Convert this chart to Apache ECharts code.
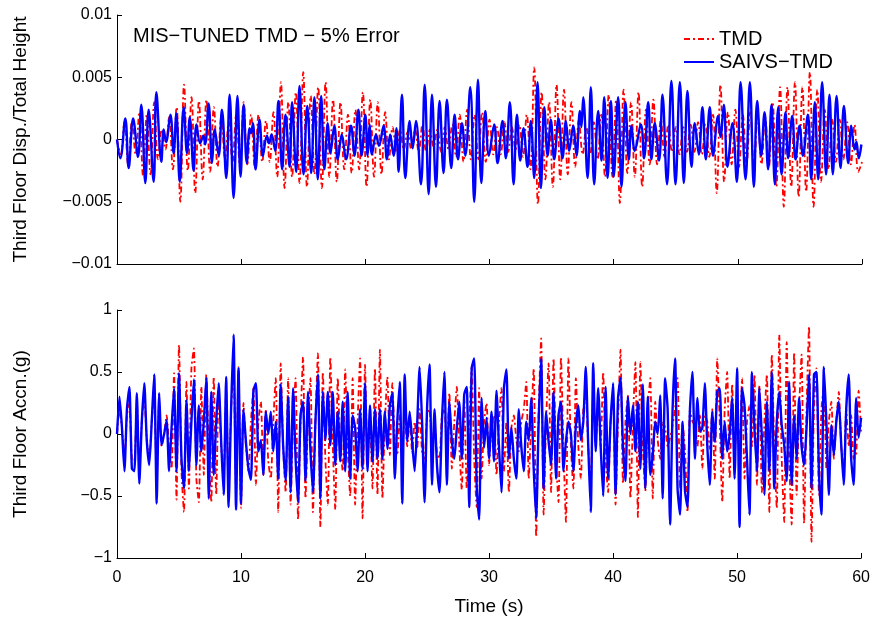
<!DOCTYPE html>
<html><head><meta charset="utf-8">
<script src="https://cdn.jsdelivr.net/npm/echarts@6/dist/echarts.min.js"></script>
<style>html,body{margin:0;padding:0;background:#fff}#c{width:873px;height:622px}</style>
</head><body><div id="c"></div>
<script>
// ---- data ----
const timeMin = 0, timeMax = 60;
const xTickStep = 10;
const dispUnit = 1e-3;          // displacement values below are in units of 1e-3
const tmdDispStep = 0.3;        // s between samples of tmdDisp
const accStep = 0.2;            // s between samples of acceleration arrays

// SAIVS-TMD displacement: [time s, value x1e-3] at peaks / troughs
const saivsDisp = [
[0,0],[0.27,-1.5],[0.67,1.7],[0.94,-2.3],[1.3,1.7],[1.69,-1.4],[1.96,2.8],[2.28,-3.5],[2.55,2.4],[2.95,-3.4],
[3.17,3.8],[3.57,-1.8],[3.76,0.8],[3.95,-0.2],[4.3,2.0],[4.56,-1.1],[4.78,2.1],[5.05,-3.4],[5.37,2.6],[5.64,-1.1],
[5.86,1.8],[6.17,-2.5],[6.4,1.2],[6.7,-0.3],[6.95,0.3],[7.1,-0.4],[7.38,2.9],[7.65,-1.9],[7.87,0.8],[8.19,-1.3],
[8.45,2.4],[8.8,-3.1],[9.07,3.6],[9.39,-4.7],[9.7,3.5],[9.95,-3.0],[10.2,2.8],[10.45,-1.9],[10.68,0.9],[10.8,0.5],
[10.95,1.3],[11.16,-2.4],[11.48,1.6],[11.75,-1.3],[12.07,0.3],[12.25,-0.3],[12.45,0.4],[12.74,-0.9],[13.0,3.1],[13.3,-2.4],
[13.57,2.0],[13.9,-2.2],[14.1,3.0],[14.43,-2.6],[14.7,4.3],[15.02,-2.8],[15.32,2.7],[15.64,-2.7],[15.9,3.4],[16.17,-3.2],
[16.44,3.5],[16.7,-2.4],[16.98,1.3],[17.19,-1.1],[17.5,1.1],[17.78,-1.6],[18.1,0.4],[18.45,-1.6],[18.85,1.1],[19.12,-1.3],
[19.44,2.4],[19.7,-1.3],[20.0,2.0],[20.18,-1.3],[20.35,1.2],[20.53,-1.2],[20.86,0.4],[21.1,-0.5],[21.47,1.1],[21.74,-1.6],
[22.0,0.4],[22.28,-1.3],[22.5,0.9],[22.68,-2.6],[22.95,3.6],[23.22,-3.1],[23.57,1.5],[23.81,-0.7],[24.08,1.5],[24.48,-3.6],
[24.78,4.4],[25.1,-4.4],[25.37,3.6],[25.69,-3.8],[25.98,3.1],[26.3,-2.7],[26.57,3.2],[26.92,-2.3],[27.19,2.0],[27.46,-1.6],
[27.78,1.3],[28.05,-1.3],[28.45,4.2],[28.77,-5.0],[29.07,4.8],[29.34,-3.5],[29.66,2.3],[29.95,-1.3],[30.38,1.2],[30.65,-1.9],
[31.05,1.5],[31.32,-1.5],[31.64,3.0],[31.94,-3.6],[32.21,2.0],[32.47,-1.7],[32.74,0.9],[33.06,-2.2],[33.33,1.5],[33.6,-3.1],
[33.87,4.6],[34.14,-3.9],[34.41,2.6],[34.68,-1.3],[34.94,1.6],[35.21,-1.6],[35.56,1.7],[35.88,-1.5],[36.15,1.5],[36.42,-0.9],
[36.74,1.1],[37.01,-1.3],[37.28,2.3],[37.4,1.0],[37.55,3.4],[37.9,-3.1],[38.16,4.2],[38.43,-3.6],[38.75,2.3],[39.02,-1.7],
[39.24,3.4],[39.51,-3.1],[39.78,3.1],[40.0,-3.0],[40.36,3.4],[40.63,-3.8],[40.95,3.0],[41.22,-1.6],[41.43,1.1],[41.7,-0.9],
[42.19,1.2],[42.45,-1.5],[42.78,3.0],[43.04,-1.6],[43.31,1.3],[43.66,-1.7],[43.93,3.6],[44.3,-3.6],[44.65,4.7],[44.98,-3.6],
[45.33,4.6],[45.65,-3.5],[45.94,3.9],[46.27,-2.2],[46.53,1.3],[46.86,-1.2],[47.15,2.6],[47.42,-1.6],[47.74,2.6],[48.0,-1.3],
[48.41,1.9],[48.6,0.2],[48.87,2.8],[49.16,-2.2],[49.57,1.3],[49.92,-3.4],[50.22,4.6],[50.62,-3.2],[50.97,4.6],[51.29,-3.8],
[51.56,3.1],[51.88,-1.3],[52.15,2.2],[52.44,-2.4],[52.71,2.8],[52.98,-3.6],[53.25,2.6],[53.52,-2.8],[53.84,2.2],[54.05,-1.5],
[54.38,1.9],[54.65,-1.6],[54.97,1.1],[55.24,-1.3],[55.64,2.0],[55.91,-3.2],[56.2,3.0],[56.47,-3.2],[56.79,4.6],[57.11,-2.8],
[57.38,3.6],[57.65,-2.8],[57.95,3.5],[58.27,-2.3],[58.54,2.7],[58.89,-1.9],[59.13,1.1],[59.4,-0.8],[59.55,-0.2],[59.74,-1.5],
[59.95,-0.4]
];

// TMD displacement, x1e-3, one sample every tmdDispStep seconds
const tmdDisp = [
0,-1.2,1.4,-2.0,1.4,-1.2,2.2,-2.9,2.0,-2.8,
3.0,-1.6,0.8,-0.8,1.8,-2.4,2.6,-5.0,4.4,-2.5,
3.4,-4.3,3.1,-3.2,3.2,-2.6,2.6,-2.2,1.8,-1.5,
1.4,-1.8,2.0,-2.2,3.0,-2.0,2.0,-2.3,2.0,-1.8,
1.5,-1.8,2.2,-3.0,4.6,-3.9,3.0,-3.0,3.8,-3.5,
5.4,-3.8,3.5,-2.8,4.2,-3.9,4.6,-3.0,3.2,-3.4,
3.0,-2.4,2.0,-2.7,2.4,-2.4,3.8,-3.8,3.2,-3.0,
3.0,-2.8,2.2,-1.6,1.0,-1.0,0.8,-0.8,0.6,-0.8,
0.8,-1.0,1.2,-1.0,0.8,-0.6,0.8,-1.0,1.0,-0.8,
1.2,-1.4,2.0,-1.8,2.4,-1.6,2.0,-1.6,2.2,-1.8,
1.6,-1.2,1.0,-1.2,1.4,-1.0,1.0,-0.8,1.2,-1.4,
2.0,-2.4,5.8,-5.2,3.8,-3.2,3.0,-3.8,4.4,-3.2,
4.0,-2.8,3.0,-2.2,1.6,-1.2,1.0,-1.2,1.4,-1.6,
2.0,-3.0,3.6,-3.0,3.2,-5.1,4.0,-2.7,3.0,-3.0,
3.8,-3.8,2.4,-2.0,3.2,-2.0,1.6,-1.4,1.2,-1.0,
1.0,-1.2,1.0,-1.0,1.2,-1.0,1.4,-1.2,1.2,-1.4,
2.0,-4.3,4.4,-3.4,2.2,-2.0,2.4,-2.2,2.0,-2.0,
2.2,-2.4,2.0,-2.0,1.8,-2.2,3.0,-3.8,4.2,-5.4,
4.2,-3.8,4.6,-4.6,4.2,-4.2,5.4,-5.4,4.0,-3.4,
2.4,-2.4,1.6,-1.8,1.6,-1.6,1.4,-2.0,1.2,-2.6,
-1.8
];

// SAIVS-TMD acceleration (g), one sample every accStep seconds
const saivsAcc = [
0,0.3,0.05,-0.3,0.2,0.38,-0.28,-0.3,0.33,-0.4,
0.1,0.41,-0.05,-0.25,0.1,0.48,-0.56,0.33,-0.09,0.0,
0.11,-0.3,0.05,0.37,-0.3,0.49,-0.2,-0.44,0.27,-0.3,
0.1,0.44,-0.25,0.23,-0.14,0.1,0.45,-0.52,0.34,-0.33,
0.1,0.41,-0.06,-0.49,0.46,-0.59,0.2,0.8,-0.61,0.53,
-0.56,0.2,-0.07,-0.28,-0.37,0.35,0.41,-0.14,-0.05,-0.33,
0.18,0.0,0.18,-0.14,0.1,-0.36,0.4,-0.1,-0.38,0.3,
-0.47,0.37,-0.2,-0.55,0.15,0.26,-0.38,0.34,-0.14,-0.47,
0.1,0.48,-0.52,0.34,-0.05,0.34,-0.09,0.34,-0.25,0.18,
-0.22,0.26,-0.3,0.34,-0.36,0.15,0.05,-0.3,0.2,-0.28,
0.41,-0.3,0.23,-0.22,0.2,-0.2,0.2,-0.2,0.18,-0.12,
0.23,0.33,-0.36,0.1,0.42,-0.56,0.48,-0.06,0.18,-0.06,
-0.3,0.07,0.54,0.1,-0.55,0.2,0.56,-0.41,0.2,-0.25,
-0.47,0.1,0.5,-0.41,0.26,-0.05,-0.2,0.05,0.26,-0.2,
0.32,0.38,-0.59,0.53,0.61,-0.41,-0.69,0.29,-0.11,0.13,
-0.2,0.18,-0.22,0.35,-0.1,-0.47,0.37,0.52,-0.2,0.05,
-0.2,-0.36,0.2,-0.1,-0.3,0.1,-0.05,0.29,-0.28,-0.68,
0.1,0.61,-0.44,0.18,-0.06,-0.25,0.34,-0.36,0.15,0.26,
-0.3,-0.06,0.1,0,-0.3,0.07,0.23,-0.05,0.1,0.54,
-0.1,-0.63,0.57,-0.14,0.37,-0.1,-0.5,0.38,-0.36,0.1,
0.41,-0.49,0.29,0.45,-0.1,-0.38,0.3,0,0.23,-0.14,
0.26,-0.28,0.4,-0.44,0.3,-0.33,-0.17,0.1,0.0,0.31,
-0.52,0.45,0.2,-0.73,0.2,0.61,-0.44,-0.65,0.1,-0.46,
-0.59,0.2,0.5,-0.2,0.29,0.02,0.05,0.41,-0.1,-0.41,
0.18,-0.06,0.34,0.37,-0.2,0.1,-0.14,0,0.29,-0.36,
0.53,-0.75,0.37,0.23,-0.2,-0.65,0.5,0.05,-0.3,0.37,
-0.03,-0.49,0.26,-0.3,0.5,-0.44,0.1,0.34,0.07,-0.09,
-0.38,0.42,-0.41,0.15,-0.2,0.29,-0.1,-0.25,0.05,0.48,
-0.44,0.48,0.5,-0.3,-0.65,0.54,0.1,-0.49,0.07,-0.17,
0.1,0.26,-0.09,-0.41,0.2,0.48,-0.2,-0.41,0.29,-0.03,
0.13
];

// TMD acceleration (g), one sample every accStep seconds
const tmdAcc = [
0,0.2,0.05,-0.2,0.15,0.25,-0.2,-0.22,0.25,-0.3,
0.1,0.3,-0.05,-0.2,0.1,0.35,-0.4,0.25,-0.1,0.0,
0.15,-0.1,-0.28,0.49,-0.53,0.72,-0.3,-0.63,0.42,-0.44,
0.53,0.69,-0.36,-0.55,0.38,-0.33,0.48,-0.1,-0.55,0.46,
-0.49,0.35,-0.1,-0.36,0.35,-0.45,0.2,0.5,-0.45,0.54,
-0.6,0.25,-0.1,-0.3,0.1,0.37,-0.41,0.1,0.26,-0.33,
0.2,-0.22,-0.36,0.1,0.45,-0.63,0.57,-0.1,-0.47,0.45,
-0.57,0.1,0.45,-0.69,0.1,0.62,-0.52,0.1,0.45,-0.63,
0.1,0.65,-0.75,0.5,-0.2,-0.57,0.62,-0.1,-0.61,0.45,
-0.1,-0.3,0.52,-0.1,-0.5,0.45,-0.57,0.1,0.61,-0.68,
0.56,-0.2,0.1,-0.44,0.53,-0.49,0.68,-0.52,0.1,0.46,
-0.17,0.41,-0.05,-0.17,0.15,-0.2,0.18,-0.1,0.12,-0.15,
0.1,-0.12,0.2,-0.15,-0.2,0.15,0.2,-0.15,0.1,-0.15,
-0.2,0.15,0.2,-0.15,0.33,-0.28,0.1,0.38,-0.1,-0.45,
0.29,-0.44,0.1,0.54,-0.2,-0.59,0.37,-0.36,0.1,0.25,
-0.25,0.05,0.15,-0.33,0.1,0.37,-0.3,0.1,-0.47,0.05,
0.15,-0.05,-0.14,0.1,0.2,0.42,-0.36,0.1,0.53,-0.83,
0.2,0.77,-0.65,0.1,0.57,-0.47,0.61,-0.2,-0.55,0.62,
-0.1,-0.71,0.61,-0.1,-0.44,0.45,-0.1,-0.36,0.2,0.3,
-0.11,-0.4,0.35,-0.1,0.3,-0.1,0.5,-0.2,-0.47,0.1,
0.33,-0.57,0.1,0.68,-0.4,0.1,0.31,-0.52,0.1,0.58,
-0.67,0.58,-0.1,-0.46,0.2,0.45,-0.52,0.26,-0.05,-0.2,
0.1,0.05,-0.1,-0.03,0.07,0.2,0.45,-0.44,0.1,-0.14,
-0.63,0.2,0.1,0.07,-0.1,0.15,-0.28,0.15,0.1,-0.12,
0.2,-0.36,0.61,0.1,-0.55,0.2,0.5,-0.36,0.4,-0.2,
0.2,-0.1,0.45,-0.36,0.1,0.23,-0.1,0.48,-0.41,0.39,
-0.47,0.1,0.48,-0.63,0.64,-0.1,-0.6,0.8,-0.2,-0.71,
0.74,-0.2,-0.73,0.66,-0.49,0.2,0.64,-0.72,0.2,0.87,
-0.87,0.2,0.53,-0.49,0.2,0.39,-0.28,0.1,0.26,-0.2,
0.1,0.34,-0.11,-0.3,0.2,-0.1,0.15,-0.2,-0.17,0.35,
0.02
];

const titleText = 'MIS−TUNED TMD − 5% Error';
const legendNames = ['TMD', 'SAIVS−TMD'];
const dispAxisName = 'Third Floor Disp./Total Height';
const accAxisName = 'Third Floor Accn.(g)';
const timeAxisName = 'Time (s)';

// ---- build ----
const FONT = 'Liberation Sans, Arial, Helvetica, sans-serif';
const TICK_FS = 16, NAME_FS = 19, TEXT_FS = 20;
const fmt = v => String(Math.round(v * 1e6) / 1e6).replace('-', '−');
const saivsDispData = saivsDisp.map(p => [p[0], p[1] * dispUnit]);
const tmdDispData = tmdDisp.map((v, i) => [+(i * tmdDispStep).toFixed(3), v * dispUnit]);
const saivsAccData = saivsAcc.map((v, i) => [+(i * accStep).toFixed(3), v]);
const tmdAccData = tmdAcc.map((v, i) => [+(i * accStep).toFixed(3), v]);

const axisCommon = {
  axisLine: { show: true, onZero: false, lineStyle: { color: '#000', width: 1 } },
  axisTick: { show: true, inside: true, length: 5, lineStyle: { color: '#000' } },
  splitLine: { show: false },
  nameTextStyle: { color: '#000', fontSize: NAME_FS, fontFamily: FONT }
};
const yLabel = { color: '#000', fontSize: TICK_FS, fontFamily: FONT, formatter: fmt, margin: 5 };
const xLabel = { color: '#000', fontSize: TICK_FS, fontFamily: FONT, formatter: fmt, margin: 12 };

const redStyle = { color: '#ff0000', width: 1.8, type: [6, 3, 2, 3] };
const blueStyle = { color: '#0000ff', width: 2.4 };

const chart = echarts.init(document.getElementById('c'), null, { renderer: 'canvas' });
chart.setOption({
  animation: false,
  backgroundColor: '#fff',
  textStyle: { fontFamily: FONT },
  title: { text: titleText, left: 133, top: 26, padding: 0,
    textStyle: { fontSize: TEXT_FS, fontWeight: 'normal', color: '#000', fontFamily: FONT } },
  legend: {
    data: legendNames, left: 683, top: 29, padding: 0, orient: 'vertical', itemWidth: 30, itemHeight: 12, itemGap: 3,
    itemStyle: { opacity: 0 },
    textStyle: { fontSize: TEXT_FS, color: '#000', fontFamily: FONT }, selectedMode: false
  },
  grid: [
    { left: 117, right: 11, top: 15, height: 249 },
    { left: 117, right: 11, top: 310, height: 248 }
  ],
  xAxis: [
    Object.assign({}, axisCommon, { gridIndex: 0, type: 'value', min: timeMin, max: timeMax, interval: xTickStep,
      axisLabel: { show: false } }),
    Object.assign({}, axisCommon, { gridIndex: 1, type: 'value', min: timeMin, max: timeMax, interval: xTickStep,
      axisLabel: xLabel, name: timeAxisName, nameLocation: 'middle', nameGap: 39 })
  ],
  yAxis: [
    Object.assign({}, axisCommon, { gridIndex: 0, type: 'value', min: -0.01, max: 0.01, interval: 0.005,
      axisLabel: yLabel, name: dispAxisName, nameLocation: 'middle', nameGap: 87 }),
    Object.assign({}, axisCommon, { gridIndex: 1, type: 'value', min: -1, max: 1, interval: 0.5,
      axisLabel: yLabel, name: accAxisName, nameLocation: 'middle', nameGap: 87 })
  ],
  series: [
    { name: 'TMD', type: 'line', xAxisIndex: 0, yAxisIndex: 0, data: tmdDispData, showSymbol: false, symbol: 'none',
      smooth: 0.4, lineStyle: redStyle, itemStyle: { color: '#ff0000' } },
    { name: 'SAIVS−TMD', type: 'line', xAxisIndex: 0, yAxisIndex: 0, data: saivsDispData, showSymbol: false, symbol: 'none',
      smooth: 0.4, lineStyle: blueStyle, itemStyle: { color: '#0000ff' } },
    { name: 'TMD', type: 'line', xAxisIndex: 1, yAxisIndex: 1, data: tmdAccData, showSymbol: false, symbol: 'none',
      smooth: 0.2, lineStyle: redStyle, itemStyle: { color: '#ff0000' } },
    { name: 'SAIVS−TMD', type: 'line', xAxisIndex: 1, yAxisIndex: 1, data: saivsAccData, showSymbol: false, symbol: 'none',
      smooth: 0.2, lineStyle: blueStyle, itemStyle: { color: '#0000ff' } }
  ]
});
</script>
</body></html>
